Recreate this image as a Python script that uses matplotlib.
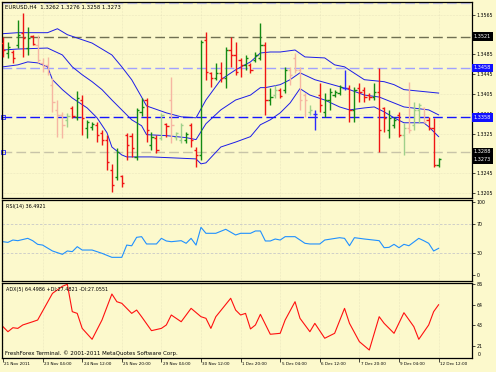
import matplotlib
matplotlib.use('Agg')
import matplotlib.pyplot as plt
import matplotlib.transforms as mtransforms

# EURUSD H4 bars, 21 Nov 20:00 .. 12 Dec 12:00 2011
opens = [1.3508, 1.3488, 1.3490, 1.3504, 1.3529, 1.3498, 1.3523, 1.3504, 1.3468, 1.3464,
         1.3424, 1.3373, 1.3363, 1.3353, 1.3377, 1.3359, 1.3393, 1.3337, 1.3339, 1.3343,
         1.3327, 1.3313, 1.3252, 1.3238, 1.3240, 1.3323, 1.3321, 1.3278, 1.3369, 1.3393,
         1.3303, 1.3317, 1.3317, 1.3345, 1.3393, 1.3319, 1.3313, 1.3313, 1.3343, 1.3292,
         1.3282, 1.3514, 1.3448, 1.3438, 1.3448, 1.3438, 1.3494, 1.3484, 1.3474, 1.3464,
         1.3464, 1.3474, 1.3478, 1.3504, 1.3393, 1.3403, 1.3414, 1.3414, 1.3454, 1.3478,
         1.3454, 1.3403, 1.3369, 1.3365, 1.3403, 1.3369, 1.3393, 1.3403, 1.3407, 1.3418,
         1.3418, 1.3373, 1.3418, 1.3414, 1.3403, 1.3399, 1.3409, 1.3377, 1.3333, 1.3343,
         1.3363, 1.3323, 1.3337, 1.3343, 1.3373, 1.3377, 1.3353, 1.3337, 1.3262]
highs = [1.3521, 1.3510, 1.3494, 1.3555, 1.3569, 1.3541, 1.3525, 1.3525, 1.3478, 1.3480,
         1.3438, 1.3393, 1.3369, 1.3367, 1.3381, 1.3411, 1.3403, 1.3353, 1.3349, 1.3349,
         1.3333, 1.3323, 1.3264, 1.3296, 1.3242, 1.3327, 1.3327, 1.3377, 1.3397, 1.3397,
         1.3329, 1.3323, 1.3367, 1.3347, 1.3440, 1.3329, 1.3347, 1.3329, 1.3347, 1.3298,
         1.3514, 1.3531, 1.3450, 1.3468, 1.3470, 1.3500, 1.3521, 1.3510, 1.3478, 1.3484,
         1.3468, 1.3490, 1.3549, 1.3510, 1.3418, 1.3424, 1.3418, 1.3460, 1.3460, 1.3488,
         1.3460, 1.3407, 1.3383, 1.3373, 1.3428, 1.3407, 1.3418, 1.3414, 1.3424, 1.3454,
         1.3424, 1.3420, 1.3428, 1.3420, 1.3407, 1.3428, 1.3458, 1.3379, 1.3373, 1.3359,
         1.3369, 1.3347, 1.3430, 1.3389, 1.3387, 1.3379, 1.3359, 1.3357, 1.3276]
lows = [1.3480, 1.3478, 1.3468, 1.3498, 1.3480, 1.3484, 1.3504, 1.3468, 1.3450, 1.3444,
        1.3369, 1.3319, 1.3317, 1.3339, 1.3357, 1.3353, 1.3323, 1.3317, 1.3333, 1.3308,
        1.3303, 1.3252, 1.3208, 1.3232, 1.3218, 1.3272, 1.3278, 1.3272, 1.3361, 1.3308,
        1.3292, 1.3286, 1.3313, 1.3319, 1.3306, 1.3313, 1.3306, 1.3306, 1.3298, 1.3258,
        1.3272, 1.3434, 1.3420, 1.3434, 1.3430, 1.3418, 1.3460, 1.3444, 1.3440, 1.3454,
        1.3448, 1.3470, 1.3474, 1.3363, 1.3383, 1.3397, 1.3397, 1.3407, 1.3424, 1.3448,
        1.3373, 1.3359, 1.3363, 1.3333, 1.3369, 1.3359, 1.3373, 1.3399, 1.3403, 1.3414,
        1.3349, 1.3349, 1.3389, 1.3389, 1.3393, 1.3393, 1.3288, 1.3329, 1.3317, 1.3337,
        1.3319, 1.3282, 1.3327, 1.3333, 1.3347, 1.3347, 1.3333, 1.3258, 1.3258]
closes = [1.3494, 1.3500, 1.3478, 1.3525, 1.3519, 1.3519, 1.3506, 1.3474, 1.3462, 1.3448,
          1.3389, 1.3363, 1.3343, 1.3361, 1.3361, 1.3397, 1.3357, 1.3349, 1.3345, 1.3323,
          1.3313, 1.3268, 1.3222, 1.3288, 1.3226, 1.3303, 1.3296, 1.3373, 1.3379, 1.3333,
          1.3319, 1.3292, 1.3363, 1.3341, 1.3343, 1.3327, 1.3343, 1.3325, 1.3313, 1.3282,
          1.3510, 1.3450, 1.3438, 1.3448, 1.3438, 1.3494, 1.3484, 1.3450, 1.3464, 1.3478,
          1.3454, 1.3484, 1.3504, 1.3393, 1.3399, 1.3414, 1.3401, 1.3454, 1.3444, 1.3454,
          1.3393, 1.3393, 1.3373, 1.3365, 1.3383, 1.3393, 1.3409, 1.3409, 1.3420, 1.3418,
          1.3373, 1.3414, 1.3409, 1.3399, 1.3399, 1.3409, 1.3333, 1.3357, 1.3357, 1.3353,
          1.3323, 1.3337, 1.3333, 1.3373, 1.3383, 1.3349, 1.3337, 1.3262, 1.3273]
# bar colour codes as they appear: g/r normal, l/p faded, b blue
bar_kind = list("rgrgrgrpppppplrgrggrrrrgrrrgg"
                "rgrlrpllgrrgrrgrgrrrgrggrglrgp"
                "ppplbrggggbrgrrrgrrggrlpllprrg")

# Bollinger bands (read at vertices)
bb_up_i = [0, 3, 9, 11, 13, 18, 22, 24, 26, 28, 29, 33, 36, 39, 41, 44, 47, 50, 52, 54, 56,
           59, 61, 65, 67, 69, 73, 77, 79, 81, 88]
bb_up = [1.3527, 1.3529, 1.3529, 1.3537, 1.3525, 1.3508, 1.3484, 1.3460, 1.3434, 1.3399,
         1.3381, 1.3367, 1.3359, 1.3357, 1.3393, 1.3434, 1.3454, 1.3470, 1.3488, 1.3490,
         1.3490, 1.3494, 1.3480, 1.3478, 1.3464, 1.3460, 1.3434, 1.3430, 1.3424, 1.3414, 1.3407]
bb_mid_i = [0, 3, 9, 12, 14, 16, 18, 20, 22, 24, 26, 28, 29, 33, 37, 39, 41, 44, 47, 50, 52,
            53, 56, 58, 60, 63, 68, 70, 73, 76, 79, 81, 86, 88]
bb_mid = [1.3494, 1.3496, 1.3498, 1.3484, 1.3460, 1.3444, 1.3430, 1.3414, 1.3393, 1.3373,
          1.3353, 1.3341, 1.3323, 1.3321, 1.3317, 1.3313, 1.3345, 1.3373, 1.3393, 1.3403,
          1.3418, 1.3418, 1.3424, 1.3434, 1.3448, 1.3434, 1.3420, 1.3414, 1.3403, 1.3399,
          1.3387, 1.3379, 1.3373, 1.3363]
bb_lo_i = [0, 3, 5, 7, 9, 10, 12, 14, 17, 19, 21, 22, 24, 25, 30, 39, 40, 41, 44, 47, 50, 52,
           54, 56, 58, 60, 62, 65, 68, 70, 73, 75, 77, 79, 81, 85, 86, 88]
bb_lo = [1.3460, 1.3464, 1.3470, 1.3468, 1.3460, 1.3434, 1.3414, 1.3397, 1.3377, 1.3357,
         1.3327, 1.3298, 1.3282, 1.3278, 1.3278, 1.3274, 1.3264, 1.3266, 1.3298, 1.3308,
         1.3319, 1.3343, 1.3353, 1.3367, 1.3387, 1.3416, 1.3403, 1.3393, 1.3379, 1.3373,
         1.3377, 1.3379, 1.3369, 1.3357, 1.3347, 1.3347, 1.3339, 1.3319]

# RSI(14)
rsi_i = [0, 1, 2, 3, 5, 6, 7, 8, 10, 12, 13, 14, 15, 16, 18, 20, 22, 24, 25, 26, 27, 28, 29,
         31, 32, 33, 34, 36, 37, 38, 39, 40, 41, 43, 45, 47, 48, 50, 51, 52, 53, 54, 55, 56,
         57, 59, 61, 62, 64, 65, 68, 69, 70, 71, 73, 76, 77, 78, 79, 80, 81, 82, 84, 85, 86,
         87, 88]
rsi = [45.6, 44.7, 47.9, 47.0, 50.2, 47.0, 42.0, 41.0, 32.9, 28.3, 32.9, 32.0, 38.8, 34.2,
       34.2, 29.7, 24.2, 24.2, 41.0, 40.0, 51.6, 52.5, 42.5, 42.5, 50.2, 46.6, 45.6, 47.0,
       43.4, 50.2, 41.0, 65.3, 57.1, 57.1, 62.6, 54.8, 57.1, 57.1, 60.3, 60.3, 46.6, 46.6,
       49.3, 47.9, 52.5, 52.5, 43.4, 42.5, 42.5, 47.9, 51.1, 50.2, 40.1, 51.1, 49.3, 47.0,
       37.4, 37.9, 42.0, 37.4, 42.0, 40.1, 50.2, 47.0, 43.4, 32.9, 36.5]

# ADX(5)
adx_i = [0, 1, 2, 3, 4, 6, 7, 10, 12, 13, 14, 15, 16, 18, 20, 22, 23, 24, 26, 27, 28, 30, 32,
         33, 34, 36, 38, 40, 41, 42, 43, 46, 47, 48, 49, 50, 51, 52, 54, 56, 57, 59, 60, 62,
         63, 65, 67, 69, 70, 72, 74, 76, 77, 79, 81, 83, 84, 86, 87, 88]
adx = [41.4, 36.1, 40.3, 39.6, 43.2, 46.6, 48.4, 76.5, 84.0, 86.0, 57.2, 55.4, 39.6, 28.1,
       48.4, 75.8, 67.7, 66.0, 55.4, 58.9, 51.9, 37.2, 39.6, 43.2, 53.7, 46.6, 60.7, 51.9,
       50.2, 39.6, 51.9, 71.3, 58.9, 53.7, 55.4, 39.0, 43.2, 54.4, 33.4, 34.4, 48.4, 67.7,
       50.2, 36.1, 44.9, 29.2, 34.4, 60.7, 44.9, 25.6, 16.8, 51.9, 44.9, 34.4, 56.1, 41.4,
       28.1, 43.2, 57.2, 64.5]

time_ticks = [0, 8, 16, 24, 32, 40, 48, 56, 64, 72, 80, 88]
time_labels = ['21 Nov 2011', '23 Nov 04:00', '24 Nov 12:00', '25 Nov 20:00', '29 Nov 04:00',
               '30 Nov 12:00', '1 Dec 20:00', '5 Dec 04:00', '6 Dec 12:00', '7 Dec 20:00',
               '9 Dec 04:00', '12 Dec 12:00']
price_ticks = [1.3205, 1.3245, 1.3325, 1.3365, 1.3405, 1.3445, 1.3485, 1.3565]
# horizontal levels: price, line colour, label box colour (None = no box)
levels = [(1.3589, '#c4c4ec', None), (1.3521, '#707052', 'black'),
          (1.3458, '#a0a0ff', '#1010ff'), (1.3358, '#1515ff', '#1010ff'),
          (1.3288, '#c8c4a8', 'black')]
last_price = 1.3273

BG = '#fcf9cc'
FS = 3.5
kind_col = {'g': '#138a13', 'r': '#f01414', 'l': '#9fd08a', 'p': '#f6b6a2', 'b': '#2a2aff'}

W, H = 496.0, 372.0
fig = plt.figure(figsize=(4.96, 3.72), dpi=100, facecolor=BG)


def rect(x0, y0, x1, y1):
    return [x0 / W, 1 - y1 / H, (x1 - x0) / W, (y1 - y0) / H]


ax = fig.add_axes(rect(2, 2, 472, 198))
ax_rsi = fig.add_axes(rect(2, 200, 472, 281), sharex=ax)
ax_adx = fig.add_axes(rect(2, 283, 472, 358), sharex=ax)

for a in (ax, ax_rsi, ax_adx):
    a.set_facecolor(BG)
    for s in a.spines.values():
        s.set_color('black')
        s.set_linewidth(0.9)
    a.yaxis.tick_right()
    a.tick_params(axis='y', direction='out', length=2, width=0.5, labelsize=3.4, pad=1.5,
                  colors='black')
    a.tick_params(axis='x', bottom=False, labelbottom=False)
    for t in time_ticks:
        a.axvline(t, color='#dcd8b4', lw=0.4, ls=':', zorder=0)

ax.set_xlim(-0.2, 94.75)

# ---- main price panel
ax.set_ylim(1.3195, 1.3591)
ax.set_yticks(price_ticks)
ax.set_yticklabels(['%.4f' % p for p in price_ticks])
for p in price_ticks:
    ax.axhline(p, color='#dcd8b4', lw=0.4, ls=':', zorder=0)

for p, col, box in levels:
    ax.axhline(p, color=col, lw=1.0, dashes=(7, 3), zorder=1)

xs = list(range(len(opens)))
cols = [kind_col[k] for k in bar_kind]
ax.vlines(xs, lows, highs, colors=cols, lw=1.0, zorder=3)
ax.hlines(opens, [x - 0.45 for x in xs], xs, colors=cols, lw=1.0, zorder=3)
ax.hlines(closes, xs, [x + 0.45 for x in xs], colors=cols, lw=1.0, zorder=3)

for bx, by in ((bb_up_i, bb_up), (bb_mid_i, bb_mid), (bb_lo_i, bb_lo)):
    ax.plot(bx, by, color='#1c1ce8', lw=0.7, zorder=2)

tr = mtransforms.blended_transform_factory(ax.transAxes, ax.transData)
for p, col, box in levels:
    if box is not None:
        ax.text(1.004, p, '%.4f' % p, transform=tr, fontsize=3.6, color='white', va='center',
                ha='left', zorder=10, clip_on=False,
                bbox=dict(boxstyle='square,pad=0.35', fc=box, ec='none'))
ax.text(1.004, last_price, '%.4f' % last_price, transform=tr, fontsize=3.6, color='white',
        va='center', ha='left', zorder=10, clip_on=False,
        bbox=dict(boxstyle='square,pad=0.35', fc='black', ec='none'))
# small level markers at the left edge
ax.plot([0.003, 0.003], [1.3358, 1.3288], transform=tr, ls='none', marker='s', ms=2.2,
        mfc='none', mec='#2020ff', mew=0.6, clip_on=False)
ax.text(0.006, 0.985, 'EURUSD,H4  1.3262 1.3276 1.3258 1.3273', transform=ax.transAxes,
        fontsize=3.9, va='top', ha='left')

# ---- RSI panel
ax_rsi.set_ylim(-8.2, 102.7)
ax_rsi.set_yticks([0, 30, 70, 100])
ax_rsi.set_yticklabels(['0', '30', '70', '100'])
for lv in (30, 70):
    ax_rsi.axhline(lv, color='#c8c8c8', lw=0.6, dashes=(3, 2))
ax_rsi.plot(rsi_i, rsi, color='#2090ff', lw=0.8)
ax_rsi.text(0.008, 0.95, 'RSI(14) 36.4921', transform=ax_rsi.transAxes, fontsize=FS,
            va='top', ha='left')

# ---- ADX panel
ax_adx.set_ylim(8.4, 87.4)
ax_adx.set_yticks([21, 43, 64, 86])
ax_adx.set_yticklabels(['21', '43', '64', '86'])
ax_adx.text(1.012, 0.02, '0', transform=ax_adx.transAxes, fontsize=3.4, va='bottom',
            ha='left')
ax_adx.plot(adx_i, adx, color='#ff1010', lw=0.8)
ax_adx.text(0.008, 0.95, 'ADX(5) 64.4986 +DI:27.4821 -DI:27.0551', transform=ax_adx.transAxes,
            fontsize=FS, va='top', ha='left')
ax_adx.text(0.006, 0.03, 'FreshForex Terminal. \u00a9 2001-2011 MetaQuotes Software Corp.',
            transform=ax_adx.transAxes, fontsize=4.0, va='bottom', ha='left')

ax_adx.tick_params(axis='x', bottom=True, length=3, width=0.5, direction='out')
ax_adx.set_xticks(time_ticks)
trx = mtransforms.blended_transform_factory(ax_adx.transData, ax_adx.transAxes)
for t, lab in zip(time_ticks, time_labels):
    ax_adx.text(t + 0.3, -0.05, lab, transform=trx, fontsize=3.0, va='top', ha='left',
                clip_on=False)

fig.savefig('out.png', dpi=100, facecolor=BG)
